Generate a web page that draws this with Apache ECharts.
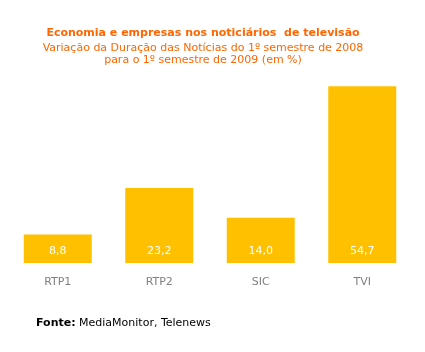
<!DOCTYPE html>
<html>
<head>
<meta charset="utf-8">
<script src="https://cdn.jsdelivr.net/npm/echarts@6/dist/echarts.min.js"></script>
<style>
  html, body { margin: 0; padding: 0; background: #fff; }
  #chart { width: 425px; height: 352px; }
</style>
</head>
<body>
<div id="chart"></div>
<script>
const categories = ['RTP1', 'RTP2', 'SIC', 'TVI'];
const values = [8.8, 23.2, 14.0, 54.7];

const chart = echarts.init(document.getElementById('chart'), null, { renderer: 'canvas' });
const font = 'DejaVu Sans, Verdana, sans-serif';

chart.setOption({
  backgroundColor: '#fff',
  animation: false,
  title: {
    text: 'Economia e empresas nos noticiários  de televisão',
    subtext: 'Variação da Duração das Notícias do 1º semestre de 2008\npara o 1º semestre de 2009 (em %)',
    left: 198,
    top: 23,
    textAlign: 'center',
    itemGap: 3,
    textStyle: { color: '#FF6600', fontFamily: font, fontSize: 11, fontWeight: 'bold' },
    subtextStyle: { color: '#FF6600', fontFamily: font, fontSize: 11, lineHeight: 12 }
  },
  grid: { left: 7, right: 12, top: 69, bottom: 89, containLabel: false },
  xAxis: {
    type: 'category',
    data: categories,
    axisLine: { show: false },
    axisTick: { show: false },
    axisLabel: { color: '#808080', fontFamily: font, fontSize: 11, margin: 14 }
  },
  yAxis: {
    type: 'value',
    min: 0,
    max: 60,
    show: false,
    splitLine: { show: false }
  },
  series: [{
    type: 'bar',
    data: values,
    barWidth: 68,
    itemStyle: { color: '#FFC000' },
    label: {
      show: true,
      position: 'insideBottom',
      distance: 6,
      color: '#fff',
      fontFamily: font,
      fontSize: 11,
      formatter: p => p.value.toFixed(1).replace('.', ',')
    }
  }],
  graphic: [{
    type: 'text',
    left: 36,
    top: 318,
    style: {
      text: '{b|Fonte:} MediaMonitor, Telenews',
      fontFamily: font,
      fontSize: 11,
      fill: '#000',
      rich: { b: { fontWeight: 'bold', fontFamily: font, fontSize: 11, fill: '#000' } }
    }
  }]
});
</script>
</body>
</html>
